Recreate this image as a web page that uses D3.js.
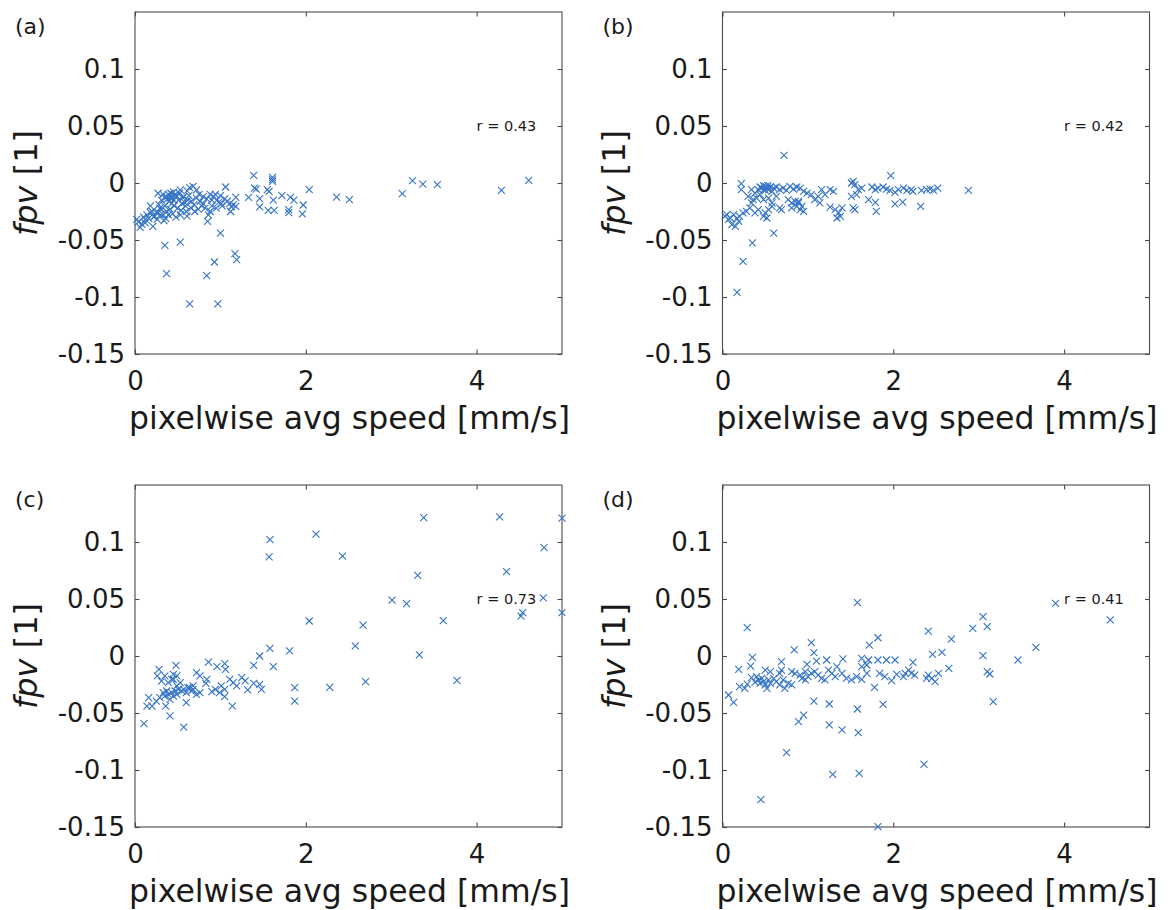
<!DOCTYPE html>
<html>
<head>
<meta charset="utf-8">
<script src="https://cdn.jsdelivr.net/npm/d3@7/dist/d3.min.js"></script>
<style>
  html, body { margin: 0; padding: 0; background: #ffffff; }
  svg { display: block; }
</style>
</head>
<body>
<script>
// ---------------- data ----------------
const panelLabels = ["(a)", "(b)", "(c)", "(d)"];
const rLabels = ["r = 0.43", "r = 0.42", "r = 0.73", "r = 0.41"];
const xTickValues = [0, 2, 4];
const xTickLabels = ["0", "2", "4"];
const yTickValues = [-0.15, -0.1, -0.05, 0, 0.05, 0.1];
const yTickLabels = ["-0.15", "-0.1", "-0.05", "0", "0.05", "0.1"];
const xDomain = [0, 5];
const yDomain = [-0.15, 0.15];
const xLabel = "pixelwise avg speed [mm/s]";
const yLabelItalic = "fpv";
const yLabelRest = " [1]";

const pointsA = [
  [0.04,-0.034],[0.06,-0.039],[0.08,-0.036],[0.02,-0.032],[0.12,-0.032],[0.16,-0.031],[0.21,-0.038],
  [0.18,-0.026],[0.18,-0.020],[0.14,-0.028],[0.20,-0.025],[0.23,-0.029],[0.25,-0.026],[0.27,-0.026],
  [0.29,-0.022],[0.31,-0.023],[0.33,-0.028],[0.35,-0.020],[0.37,-0.025],[0.39,-0.028],[0.41,-0.023],
  [0.43,-0.018],[0.27,-0.009],[0.31,-0.015],[0.33,-0.010],[0.35,-0.013],[0.37,-0.012],[0.39,-0.010],
  [0.41,-0.013],[0.43,-0.012],[0.45,-0.015],[0.47,-0.010],[0.49,-0.012],[0.51,-0.015],[0.53,-0.006],
  [0.53,-0.028],[0.55,-0.018],[0.57,-0.012],[0.59,-0.020],[0.61,-0.029],[0.61,-0.007],[0.62,-0.015],
  [0.64,-0.004],[0.66,-0.016],[0.68,-0.003],[0.70,-0.025],[0.72,-0.006],[0.74,-0.023],[0.76,-0.016],
  [0.78,-0.020],[0.80,-0.012],[0.82,-0.022],[0.86,-0.028],[0.88,-0.010],[0.88,-0.025],[0.90,-0.015],
  [0.92,-0.012],[0.94,-0.010],[0.96,-0.015],[1.00,-0.011],[1.01,-0.018],[1.05,-0.014],[1.06,-0.0035],
  [1.11,-0.018],[1.13,-0.021],[1.12,-0.025],[1.15,-0.019],[1.18,-0.0126],[1.18,-0.0205],[0.85,-0.0336],
  [0.22,-0.030],[0.30,-0.028],[0.36,-0.031],[0.44,-0.027],[0.28,-0.019],[0.40,-0.016],[0.46,-0.020],
  [0.50,-0.022],[0.38,-0.014],[0.42,-0.009],[0.45,-0.008],[0.48,-0.011],[0.52,-0.009],[0.56,-0.013],
  [0.58,-0.017],[0.63,-0.011],[0.66,-0.022],[0.69,-0.019],[0.72,-0.013],[0.75,-0.010],[0.80,-0.018],
  [0.84,-0.014],[0.90,-0.020],[0.95,-0.022],[0.98,-0.017],[1.02,-0.020],[1.08,-0.016],[0.10,-0.030],
  [0.12,-0.035],[0.26,-0.032],[0.34,-0.033],[0.48,-0.030],[0.54,-0.024],[0.60,-0.025],
  [1.39,0.0067],[1.61,0.005],[1.61,0.003],[1.61,0.0015],[1.40,-0.0044],[1.42,-0.0053],[1.55,-0.0058],
  [1.57,-0.0073],[2.04,-0.0058],[1.33,-0.0126],[1.46,-0.0137],[1.62,-0.015],[1.72,-0.011],[1.82,-0.0126],
  [1.86,-0.015],[1.97,-0.0193],[1.46,-0.021],[1.56,-0.024],[1.63,-0.024],[1.80,-0.0234],[1.80,-0.026],
  [1.96,-0.027],[2.36,-0.0123],[2.51,-0.0146],[3.13,-0.0094],[3.25,0.002],[3.37,-0.0009],[3.54,-0.0015],
  [4.29,-0.0064],[4.61,0.0023],
  [0.35,-0.0547],[0.53,-0.0518],[1.00,-0.0439],[0.37,-0.0795],[0.84,-0.0813],[0.93,-0.0693],
  [1.17,-0.062],[1.19,-0.0673],[0.64,-0.106],[0.97,-0.106]
];

const pointsB = [
  [0.72,0.0243],[1.97,0.0064],[2.88,-0.0064],[0.22,-0.0006],[0.22,-0.0058],[0.60,-0.0439],[0.35,-0.0526],
  [0.24,-0.0687],[0.17,-0.0959],
  [1.51,0.000],[1.53,0.0015],[1.55,-0.0015],[1.59,-0.0058],[1.63,-0.0044],[1.75,-0.0035],[1.79,-0.0058],
  [1.82,-0.0044],[1.88,-0.0035],[1.92,-0.0053],[1.96,-0.0064],[2.02,-0.0082],[2.06,-0.0058],[2.12,-0.0044],
  [2.16,-0.0064],[2.21,-0.0058],[2.23,-0.0073],[2.33,-0.0064],[2.39,-0.0058],[2.43,-0.0053],[2.47,-0.0064],
  [2.52,-0.0044],[1.51,-0.0117],[1.57,-0.0102],[1.71,-0.0146],[1.79,-0.017],[2.02,-0.0184],[2.11,-0.0167],
  [2.32,-0.0205],[1.53,-0.0219],[1.55,-0.0234],[1.80,-0.0249],[1.26,-0.0211],[1.32,-0.0234],[1.36,-0.0263],
  [1.38,-0.0292],[1.40,-0.0219],[1.34,-0.0307],[1.16,-0.0058],[1.20,-0.0102],[1.26,-0.0058],[1.30,-0.0073],
  [1.12,-0.0117],[1.14,-0.0175],[1.04,-0.0102],[1.08,-0.0146],
  [0.42,-0.006],[0.44,-0.0035],[0.46,-0.0044],[0.48,-0.0023],[0.49,-0.0053],[0.50,-0.003],[0.50,-0.0064],
  [0.52,-0.0044],[0.53,-0.0023],[0.54,-0.0058],[0.56,-0.0035],[0.58,-0.0073],[0.60,-0.0044],[0.63,-0.0035],
  [0.67,-0.0058],[0.71,-0.0044],[0.75,-0.0064],[0.79,-0.003],[0.83,-0.0053],[0.87,-0.0035],[0.91,-0.0044],
  [0.95,-0.0073],[0.99,-0.0088],[0.34,-0.0058],[0.38,-0.0088],[0.30,-0.0117],[0.36,-0.0146],[0.40,-0.0132],
  [0.44,-0.0102],[0.48,-0.0146],[0.54,-0.0132],[0.58,-0.0175],[0.63,-0.0117],[0.77,-0.0146],[0.81,-0.0175],
  [0.89,-0.0161],
  [0.05,-0.0278],[0.09,-0.0307],[0.11,-0.0365],[0.13,-0.0278],[0.15,-0.038],[0.19,-0.0336],[0.20,-0.0292],
  [0.24,-0.0263],[0.28,-0.0249],[0.32,-0.0219],[0.34,-0.0175],[0.38,-0.0263],[0.42,-0.0234],[0.48,-0.0292],
  [0.50,-0.0263],[0.52,-0.0307],[0.54,-0.0234],[0.58,-0.0205],[0.67,-0.0219],[0.69,-0.0234],[0.81,-0.0219],
  [0.87,-0.0205],[0.91,-0.0234],[0.93,-0.0205],[0.95,-0.0249],[0.89,-0.0175],[0.85,-0.0161],
  [0.07,-0.032],[0.03,-0.029],[0.17,-0.031]
];

const pointsC = [
  [3.38,0.1213],[4.27,0.122],[4.79,0.095],[4.35,0.074],[4.78,0.051],[4.52,0.035],[4.54,0.038],
  [5.0,0.121],[5.0,0.038],
  [1.58,0.102],[1.57,0.087],[2.12,0.107],[2.43,0.0877],[3.31,0.0708],[3.01,0.049],[3.18,0.046],
  [3.61,0.031],[2.04,0.0307],[2.67,0.027],[2.58,0.0088],[3.33,0.0009],[2.70,-0.0225],[3.77,-0.0213],
  [2.28,-0.0275],[1.87,-0.0278],[1.87,-0.0395],[1.81,0.0044],[1.58,0.0067],[1.62,-0.0094],[1.46,0.0],
  [1.39,-0.0082],[0.105,-0.0594],[0.57,-0.0623],[0.41,-0.0526],[1.14,-0.0439],
  [0.45,-0.0205],[0.49,-0.0263],[0.53,-0.0234],[0.57,-0.0292],[0.60,-0.0322],[0.64,-0.0278],[0.68,-0.0292],
  [0.72,-0.0336],[0.76,-0.0322],[0.60,-0.0409],[0.33,-0.0322],[0.35,-0.0351],[0.37,-0.0307],[0.39,-0.0336],
  [0.41,-0.038],[0.43,-0.0322],[0.45,-0.0351],[0.47,-0.0307],[0.49,-0.0336],[0.51,-0.0292],[0.55,-0.0307],
  [0.62,-0.0278],[0.66,-0.0307],[0.68,-0.0263],[0.39,-0.0234],[0.43,-0.0205],[0.35,-0.0175],[0.45,-0.0161],
  [0.49,-0.0175],[1.01,-0.0263],[1.05,-0.0292],[1.05,-0.0357],[1.11,-0.0205],[1.15,-0.0234],[1.19,-0.0263],
  [1.25,-0.019],[1.29,-0.0219],[1.32,-0.0298],[1.39,-0.024],[1.46,-0.0249],[1.48,-0.0292],[0.72,-0.0146],
  [0.76,-0.0175],[0.83,-0.024],[0.90,-0.0313],[0.86,-0.0053],[0.96,-0.0094],[1.05,-0.0067],[1.06,-0.0117],
  [0.48,-0.0082],[0.28,-0.0117],[0.26,-0.0175],[0.31,-0.022],[0.16,-0.0365],[0.14,-0.0439],[0.20,-0.0439],
  [0.36,-0.0439],[0.25,-0.0395],[0.29,-0.0365],[0.84,-0.0205],[0.94,-0.0292],[0.99,-0.0322]
];

const pointsD = [
  [1.58,0.0468],[3.90,0.0462],[4.54,0.0316],[3.05,0.0345],[3.10,0.0257],[2.93,0.0243],[2.41,0.0219],
  [2.68,0.0149],[3.67,0.0076],[3.46,-0.0035],[3.05,0.0003],[2.57,0.0032],[2.46,0.0015],[2.65,-0.0108],
  [3.10,-0.0137],[3.13,-0.0158],[3.17,-0.040],[2.36,-0.095],[0.29,0.0249],[1.04,0.0117],[1.07,0.0029],
  [0.84,0.0053],[1.72,0.0096],[1.82,0.016],[0.35,-0.0012],[0.33,-0.0088],[0.19,-0.0117],[0.20,-0.0269],
  [0.26,-0.0284],[0.29,-0.0246],[0.07,-0.0342],[0.13,-0.0406],[0.75,-0.0848],[0.89,-0.0576],[0.95,-0.0518],
  [1.07,-0.0395],[1.25,-0.0421],[1.25,-0.0605],[1.40,-0.0649],[1.58,-0.0465],[1.59,-0.0673],[1.29,-0.1038],
  [1.60,-0.1029],[0.45,-0.126],[1.82,-0.1497],[1.88,-0.0424],[1.78,-0.0275],
  [0.69,-0.005],[0.99,-0.0073],[1.10,-0.0044],[1.22,-0.0035],[1.41,-0.0026],[1.63,-0.002],[1.71,-0.0035],
  [1.82,-0.0035],[1.92,-0.0035],[2.02,-0.0035],[2.23,-0.0056],[1.24,-0.0123],[1.34,-0.0094],[1.63,-0.0094],
  [1.69,-0.0079],[1.98,-0.0216],[2.04,-0.0161],[2.14,-0.0152],[2.18,-0.0123],[2.25,-0.0167],[2.41,-0.0167],
  [2.45,-0.0196],[2.49,-0.0225],[2.53,-0.0152],
  [0.40,-0.018],[0.42,-0.021],[0.44,-0.024],[0.46,-0.0196],[0.48,-0.0225],[0.50,-0.0254],[0.52,-0.0284],
  [0.54,-0.021],[0.56,-0.024],[0.60,-0.0196],[0.63,-0.0225],[0.67,-0.0254],[0.71,-0.021],[0.73,-0.0284],
  [0.77,-0.024],[0.81,-0.0254],[0.85,-0.0152],[0.91,-0.0167],[0.93,-0.0196],[0.97,-0.021],[1.00,-0.018],
  [1.04,-0.0152],[1.12,-0.0167],[1.16,-0.0196],[1.20,-0.021],[1.28,-0.0152],[1.32,-0.018],[1.40,-0.0152],
  [1.45,-0.0196],[1.51,-0.021],[1.57,-0.018],[1.63,-0.0205],[1.84,-0.0152],[1.90,-0.018],[0.67,-0.0152],
  [0.56,-0.0137],[0.50,-0.0123],[0.97,-0.0137],[1.08,-0.0137],[0.69,-0.0123],[0.81,-0.0137],[1.69,-0.0152],
  [2.12,-0.018],[2.21,-0.0152],[2.39,-0.0196],[0.34,-0.019],[0.38,-0.023]
];

const allPoints = [pointsA, pointsB, pointsC, pointsD];

// ---------------- layout ----------------
const W = 1168, H = 910;
const cols = [[135, 562], [722.5, 1149.5]];
const rows = [[12, 354], [485, 827]];
const FONT = "'DejaVu Sans', sans-serif";
const axisColor = "#4a4a4a";
const markColor = "#3473c6";

const svg = d3.select("body").append("svg")
  .attr("width", W).attr("height", H)
  .attr("font-family", FONT);

svg.append("rect").attr("width", W).attr("height", H).attr("fill", "#fff");

allPoints.forEach((pts, i) => {
  const col = cols[i % 2], row = rows[Math.floor(i / 2)];
  const x = d3.scaleLinear().domain(xDomain).range(col);
  const y = d3.scaleLinear().domain(yDomain).range([row[1], row[0]]);
  const g = svg.append("g");

  g.append("rect")
    .attr("x", col[0]).attr("y", row[0])
    .attr("width", col[1] - col[0]).attr("height", row[1] - row[0])
    .attr("fill", "none").attr("stroke", axisColor).attr("stroke-width", 1.1);

  const tickLen = 4.5;
  const ax = g.append("g").attr("transform", `translate(0,${row[1]})`)
    .call(d3.axisBottom(x).tickValues(xTickValues)
      .tickFormat((d, k) => xTickLabels[k]).tickSizeInner(-tickLen).tickSizeOuter(0).tickPadding(18));
  const axT = g.append("g").attr("transform", `translate(0,${row[0]})`)
    .call(d3.axisTop(x).tickValues(xTickValues).tickFormat("").tickSizeInner(-tickLen).tickSizeOuter(0));
  const ay = g.append("g").attr("transform", `translate(${col[0]},0)`)
    .call(d3.axisLeft(y).tickValues(yTickValues)
      .tickFormat((d, k) => yTickLabels[k]).tickSizeInner(-tickLen).tickSizeOuter(0).tickPadding(10));
  const ayR = g.append("g").attr("transform", `translate(${col[1]},0)`)
    .call(d3.axisRight(y).tickValues(yTickValues).tickFormat("").tickSizeInner(-tickLen).tickSizeOuter(0));

  [ax, axT, ay, ayR].forEach(a => {
    a.select(".domain").remove();
    a.selectAll(".tick line").attr("stroke", axisColor).attr("stroke-width", 1.1);
    a.selectAll(".tick text").attr("fill", "#1a1a1a").attr("font-size", 26).attr("font-family", FONT);
  });

  g.append("text")
    .attr("x", (col[0] + col[1]) / 2 + 1).attr("y", row[1] + 75)
    .attr("text-anchor", "middle").attr("font-size", 31.5).attr("fill", "#1a1a1a")
    .text(xLabel);

  const yl = g.append("text")
    .attr("transform", `translate(${col[0] - 98},${(row[0] + row[1]) / 2}) rotate(-90)`)
    .attr("text-anchor", "middle").attr("font-size", 32).attr("fill", "#1a1a1a");
  yl.append("tspan").attr("font-style", "italic").text(yLabelItalic);
  yl.append("tspan").text(yLabelRest);

  g.append("text")
    .attr("x", col[0] - 120).attr("y", row[0] + 22)
    .attr("font-size", 22).attr("fill", "#1a1a1a")
    .text(panelLabels[i]);

  g.append("text")
    .attr("x", x(4)).attr("y", y(0.05)).attr("dy", "0.35em")
    .attr("font-size", 14.5).attr("fill", "#1a1a1a")
    .text(rLabels[i]);

  const s = 3.5;
  g.append("g").selectAll("path").data(pts).enter().append("path")
    .attr("d", d => {
      const px = x(d[0]), py = y(d[1]);
      return `M${px - s},${py - s}L${px + s},${py + s}M${px - s},${py + s}L${px + s},${py - s}`;
    })
    .attr("stroke", markColor).attr("stroke-width", 1.1).attr("fill", "none");
});
</script>
</body>
</html>
